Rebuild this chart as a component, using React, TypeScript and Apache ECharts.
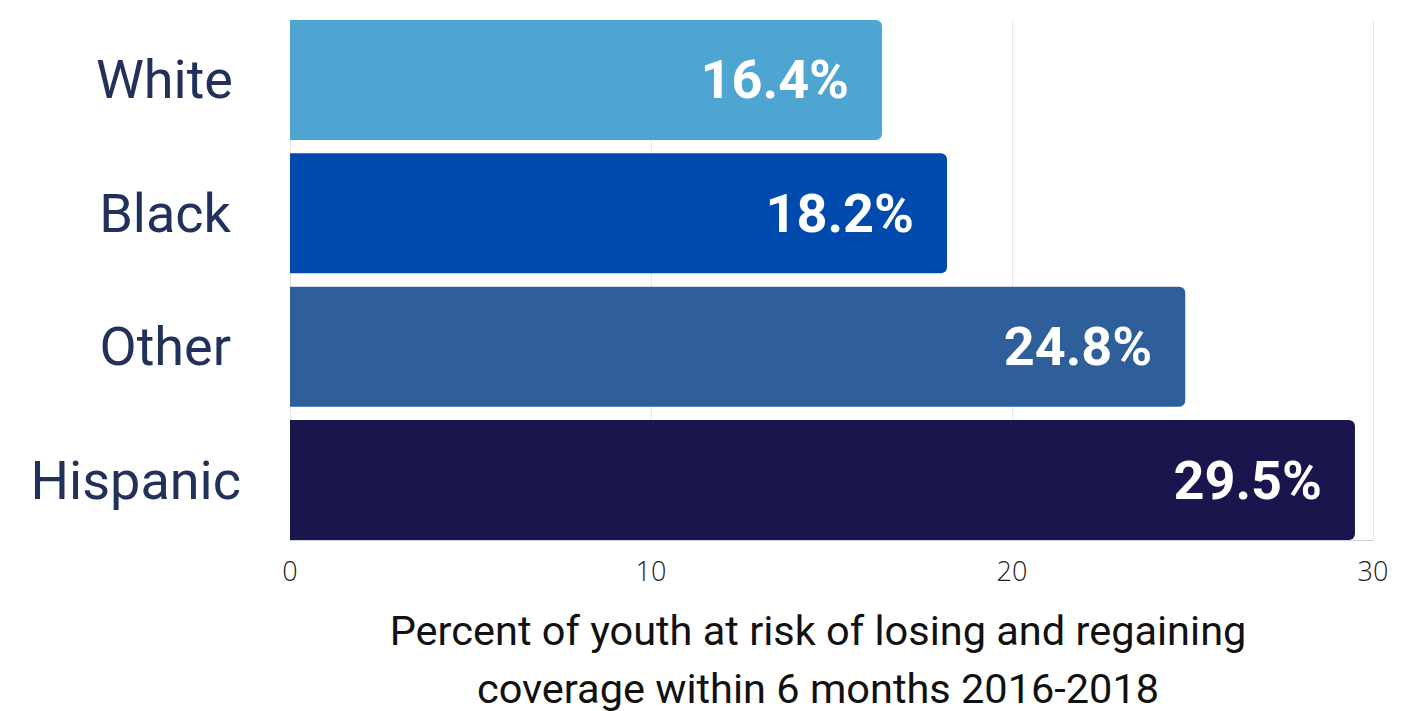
import React, { useEffect, useRef } from "react";
import * as echarts from "echarts";

const categories = ["White", "Black", "Other", "Hispanic"];
const values = [16.4, 18.2, 24.8, 29.5];
const barColors = ["#4fa5d1", "#004aad", "#2e5f9a", "#1a164d"];
const xTicks = [0, 10, 20, 30];
const axisTitle = "Percent of youth at risk of losing and regaining\ncoverage within 6 months 2016-2018";
const labelShift: Record<string, number> = { White: 8, Black: 10, Other: 10, Hispanic: 0 };

export default function App() {
  const ref = useRef<HTMLDivElement>(null);
  useEffect(() => {
    const chart = echarts.init(ref.current!, null, { renderer: "svg" });
    const rich: Record<string, any> = {};
    categories.forEach((c) => {
      rich[c] = {
        fontFamily: "Roboto",
        fontSize: 54,
        color: "#22315a",
        padding: [0, labelShift[c], 0, 0],
      };
    });
    const xMin = xTicks[0];
    const xMax = xTicks[xTicks.length - 1];
    chart.setOption({
      animation: false,
      grid: [
        { left: 290, right: 42, top: 20, bottom: 171, containLabel: false, outerBoundsMode: "none" },
        { left: 290, right: 42, top: 13.33, bottom: 164.33, containLabel: false, outerBoundsMode: "none" },
      ],
      xAxis: [
        {
          gridIndex: 0,
          type: "value",
          min: xMin,
          max: xMax,
          interval: 10,
          axisLine: { show: true, lineStyle: { color: "#cfcde0", width: 1 } },
          axisTick: { show: false },
          splitLine: { show: true, lineStyle: { color: "#e8e8e8", width: 1 } },
          axisLabel: {
            fontFamily: "Open Sans",
            fontWeight: 300,
            fontSize: 27,
            color: "#222",
            margin: 17,
          },
          name: axisTitle,
          nameLocation: "middle",
          nameGap: 61,
          nameTextStyle: {
            fontFamily: "Roboto",
            fontSize: 41.5,
            color: "#111",
            lineHeight: 58,
            verticalAlign: "top",
            padding: [0, 27, 0, 0],
          },
        },
        {
          gridIndex: 1,
          type: "value",
          min: xMin,
          max: xMax,
          interval: 10,
          show: false,
          splitLine: { show: false },
        },
      ],
      yAxis: [
        {
          gridIndex: 0,
          type: "category",
          data: categories,
          inverse: true,
          show: false,
        },
        {
          gridIndex: 1,
          type: "category",
          data: categories,
          inverse: true,
          axisLine: { show: false },
          axisTick: { show: false },
          splitLine: { show: false },
          axisLabel: {
            margin: 49,
            formatter: (v: string) => `{${v}|${v}}`,
            rich,
          },
        },
      ],
      series: [
        {
          type: "bar",
          xAxisIndex: 1,
          yAxisIndex: 1,
          data: values.map((v, i) => ({ value: v, itemStyle: { color: barColors[i] } })),
          barCategoryGap: "10%",
          itemStyle: { borderRadius: [0, 6, 6, 0] },
          label: {
            show: true,
            position: "insideRight",
            distance: 33,
            formatter: (p: any) => p.value.toFixed(1) + "%",
            fontFamily: "Roboto",
            fontWeight: "bold",
            fontSize: 54,
            color: "#ffffff",
          },
        },
      ],
    });
    return () => chart.dispose();
  }, []);
  return (
    <div
      ref={ref}
      style={{ position: "fixed", left: 0, top: 0, width: 1415, height: 711, background: "#fff" }}
    />
  );
}
